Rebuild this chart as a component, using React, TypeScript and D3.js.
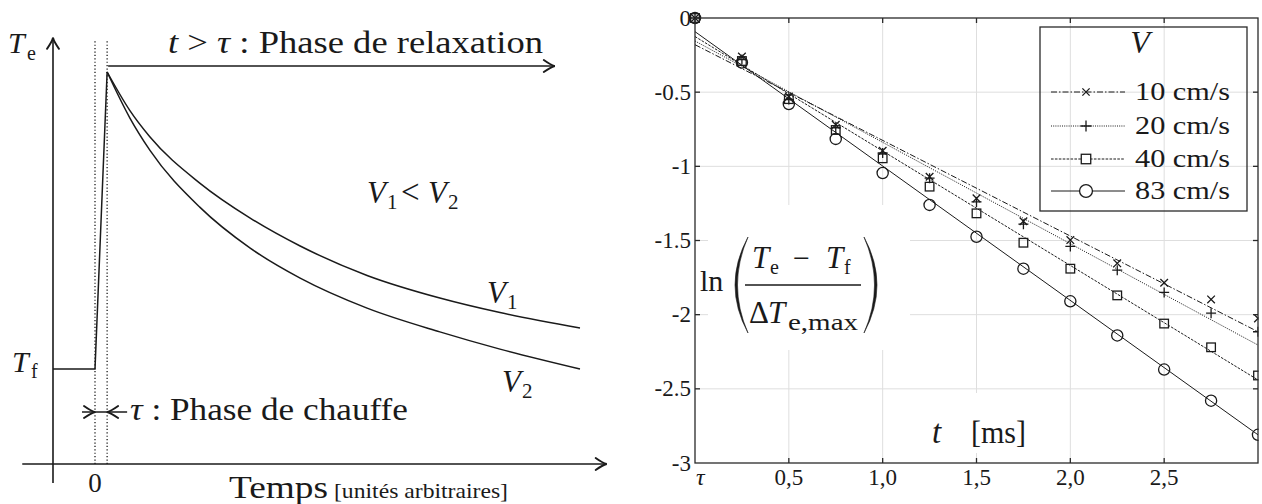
import React from "react";
import * as d3 from "d3";

// ---------- Left panel (schematic) data, arbitrary units ----------
const TAU = 0.25;
const heatT = [-0.866, 0, TAU];
const heatV = [0, 0, 1];
const relaxT = [0.25, 0.72, 1.13, 2.16, 3.2, 4.23, 5.61, 7.11, 8.35, 10];
const relaxV1 = [1.0, 0.87, 0.782, 0.626, 0.508, 0.414, 0.315, 0.239, 0.19, 0.138];
const relaxV2 = [1.0, 0.845, 0.737, 0.545, 0.407, 0.306, 0.205, 0.125, 0.067, 0.0];

// ---------- Right panel data ----------
const tMs = [0, 0.25, 0.5, 0.75, 1.0, 1.25, 1.5, 1.75, 2.0, 2.25, 2.5, 2.75, 3.0];
const speedLabels = ["10 cm/s", "20 cm/s", "40 cm/s", "83 cm/s"];
const ln10 = [0, -0.26, -0.53, -0.72, -0.895, -1.07, -1.216, -1.37, -1.497, -1.654, -1.785, -1.897, -2.025];
const ln20 = [0, -0.28, -0.55, -0.74, -0.91, -1.08, -1.24, -1.39, -1.54, -1.7, -1.85, -1.99, -2.115];
const ln40 = [0, -0.29, -0.547, -0.755, -0.946, -1.137, -1.317, -1.515, -1.69, -1.87, -2.06, -2.22, -2.41];
const ln83 = [0, -0.3, -0.58, -0.815, -1.045, -1.26, -1.475, -1.69, -1.91, -2.14, -2.37, -2.58, -2.81];
const fitStart = [-0.18, -0.155, -0.125, -0.092];
const fitEnd = [-2.115, -2.205, -2.44, -2.81];
const xTickVals = [0, 0.5, 1.0, 1.5, 2.0, 2.5];
const xTickLabels = ["τ", "0,5", "1,0", "1,5", "2,0", "2,5"];
const yTickVals = [0, -0.5, -1, -1.5, -2, -2.5, -3];
const yTickLabels = ["0", "-0.5", "-1", "-1.5", "-2", "-2.5", "-3"];

const FONT = '"Liberation Serif", "DejaVu Serif", serif';
const INK = "#1a1a1a";
const markers = ["cross", "plus", "square", "circle"];
const dashes = ["6,2,1.5,2", "1,1.2", "2.6,1.3", ""];

function Marker({ type, x, y, s = 1 }: { type: string; x: number; y: number; s?: number }) {
  const st = { stroke: INK, strokeWidth: 1.3, fill: "none" } as const;
  if (type === "cross") {
    const h = 3.8 * s;
    return <path d={`M${x - h},${y - h}L${x + h},${y + h}M${x - h},${y + h}L${x + h},${y - h}`} {...st} />;
  }
  if (type === "plus") {
    const h = 5 * s;
    return <path d={`M${x - h},${y}L${x + h},${y}M${x},${y - h}L${x},${y + h}`} {...st} />;
  }
  if (type === "square") {
    const h = 4.3 * s;
    return <rect x={x - h} y={y - h} width={2 * h} height={2 * h} {...st} />;
  }
  return <circle cx={x} cy={y} r={5.6 * s} {...st} />;
}

function ArrowHead({ x, y, dir, size = 1 }: { x: number; y: number; dir: "right" | "left" | "up"; size?: number }) {
  const L = 11 * size, W = 6 * size;
  let d = "";
  if (dir === "right") d = `M${x - L},${y - W}Q${x - 4},${y - 1} ${x},${y}Q${x - 4},${y + 1} ${x - L},${y + W}`;
  if (dir === "left") d = `M${x + L},${y - W}Q${x + 4},${y - 1} ${x},${y}Q${x + 4},${y + 1} ${x + L},${y + W}`;
  if (dir === "up") d = `M${x - W},${y + L}Q${x - 1},${y + 4} ${x},${y}Q${x + 1},${y + 4} ${x + W},${y + L}`;
  return <path d={d} fill="none" stroke={INK} strokeWidth={1.9} strokeLinecap="round" />;
}

export default function App() {
  const xL = d3.scaleLinear().domain([0, 10]).range([95, 580]);
  const yL = d3.scaleLinear().domain([0, 1]).range([369, 72]);
  const lineL = d3.line<[number, number]>().x((d) => xL(d[0])).y((d) => yL(d[1]));
  const curveL = d3.line<[number, number]>().x((d) => xL(d[0])).y((d) => yL(d[1])).curve(d3.curveMonotoneX);
  const heatPath = lineL(heatT.map((t, i) => [t, heatV[i]]))!;
  const v1Path = curveL(relaxT.map((t, i) => [t, relaxV1[i]]))!;
  const v2Path = curveL(relaxT.map((t, i) => [t, relaxV2[i]]))!;
  const axisX0 = xL(-1.5), axisX1 = xL(10.55), axisY = yL(-0.32);
  const yAxisX = xL(-0.866), yAxisTop = yL(1.115), yAxisBot = yL(-0.384);
  const dotTop = yL(1.105);
  const relaxY = yL(1.02), relaxEnd = xL(9.48);
  const chY = yL(-0.145);

  const x = d3.scaleLinear().domain([0, 3]).range([695, 1258]);
  const y = d3.scaleLinear().domain([-3, 0]).range([463, 18]);
  const series = [ln10, ln20, ln40, ln83];
  const fitLine = d3.line<[number, number]>().x((d) => x(d[0])).y((d) => y(d[1]));
  const gridX = xTickVals.slice(1);
  const gridY = yTickVals.slice(1, -1);
  const legendRows = [92, 126, 159, 191];

  return (
    <svg width={1262} height={504} style={{ position: "absolute", left: 0, top: 0, background: "#fff", fontFamily: FONT }}>
      <defs>
        <clipPath id="plotClip">
          <rect x={600} y={0} width={658.5} height={504} />
        </clipPath>
      </defs>
      <rect width={1262} height={504} fill="#fff" />

      {/* ===================== LEFT PANEL ===================== */}
      <g>
        <line x1={axisX0} y1={axisY} x2={axisX1} y2={axisY} stroke={INK} strokeWidth={1.6} />
        <ArrowHead x={axisX1} y={axisY} dir="right" />
        <line x1={yAxisX} y1={yAxisBot} x2={yAxisX} y2={yAxisTop} stroke={INK} strokeWidth={1.6} />
        <ArrowHead x={yAxisX} y={yAxisTop} dir="up" />
        {[0, TAU].map((t) => (
          <line key={t} x1={xL(t)} x2={xL(t)} y1={axisY} y2={dotTop} stroke={INK} strokeWidth={1.3} strokeDasharray="1.2,2.2" />
        ))}
        <path d={heatPath} fill="none" stroke={INK} strokeWidth={1.5} />
        <path d={v1Path} fill="none" stroke={INK} strokeWidth={1.5} />
        <path d={v2Path} fill="none" stroke={INK} strokeWidth={1.5} />
        <line x1={xL(TAU) + 1} y1={relaxY} x2={relaxEnd} y2={relaxY} stroke={INK} strokeWidth={1.5} />
        <ArrowHead x={relaxEnd} y={relaxY} dir="right" />
        <text x={168} y={53} fontSize={31} fill={INK} textLength={375} lengthAdjust="spacingAndGlyphs">
          <tspan fontStyle="italic">t</tspan> &gt; <tspan fontStyle="italic">τ</tspan> : Phase de relaxation
        </text>
        <line x1={xL(0) - 13} y1={chY} x2={xL(TAU) + 20} y2={chY} stroke={INK} strokeWidth={1.6} />
        <ArrowHead x={xL(0)} y={chY} dir="right" />
        <ArrowHead x={xL(TAU)} y={chY} dir="left" />
        <text x={130} y={420} fontSize={31} fill={INK} textLength={278} lengthAdjust="spacingAndGlyphs">
          <tspan fontStyle="italic">τ</tspan> : Phase de chauffe
        </text>
        <text x={8} y={53} fontSize={30} fontStyle="italic" fill={INK}>T</text>
        <text x={27} y={60} fontSize={20} fill={INK}>e</text>
        <text x={12} y={372} fontSize={30} fontStyle="italic" fill={INK}>T</text>
        <text x={31} y={378} fontSize={20} fill={INK}>f</text>
        <text x={xL(0)} y={492} fontSize={27} textAnchor="middle" fill={INK}>0</text>
        <text x={229} y={498} fontSize={31} fill={INK} textLength={99} lengthAdjust="spacingAndGlyphs">Temps</text>
        <text x={334} y={498} fontSize={21} fill={INK} textLength={174} lengthAdjust="spacingAndGlyphs">[unités arbitraires]</text>
        <text x={367} y={203} fontSize={31} fontStyle="italic" fill={INK}>V</text>
        <text x={387} y={209} fontSize={21} fill={INK}>1</text>
        <text x={401} y={203} fontSize={33} fill={INK}>&lt;</text>
        <text x={428} y={203} fontSize={31} fontStyle="italic" fill={INK}>V</text>
        <text x={448} y={209} fontSize={21} fill={INK}>2</text>
        <text x={487} y={303} fontSize={31} fontStyle="italic" fill={INK}>V</text>
        <text x={507} y={309} fontSize={21} fill={INK}>1</text>
        <text x={502} y={392} fontSize={31} fontStyle="italic" fill={INK}>V</text>
        <text x={522} y={398} fontSize={21} fill={INK}>2</text>
      </g>

      {/* ===================== RIGHT PANEL ===================== */}
      <g>
        {gridX.map((v) => (
          <line key={"gx" + v} x1={x(v)} x2={x(v)} y1={y(0)} y2={y(-3)} stroke="#dedede" strokeWidth={1} />
        ))}
        {gridY.map((v) => (
          <line key={"gy" + v} x1={x(0)} x2={x(3)} y1={y(v)} y2={y(v)} stroke="#dedede" strokeWidth={1} />
        ))}
        <rect x={708} y={205} width={202} height={145} fill="#fff" />
        <rect x={925} y={393} width={112} height={60} fill="#fff" />

        {series.map((_, i) => (
          <path
            key={"fit" + i}
            d={fitLine([[0, fitStart[i]], [3, fitEnd[i]]])!}
            fill="none"
            stroke={INK}
            strokeWidth={1}
            strokeDasharray={dashes[i] || undefined}
          />
        ))}
        <g clipPath="url(#plotClip)">
          {series.map((vals, i) =>
            vals.map((v, j) => <Marker key={`m${i}-${j}`} type={markers[i]} x={x(tMs[j])} y={y(v)} />)
          )}
        </g>

        <rect x={x(0)} y={y(0)} width={x(3) - x(0)} height={y(-3) - y(0)} fill="none" stroke="#2a2a2a" strokeWidth={1.3} />
        {gridX.map((v) => (
          <g key={"tx" + v}>
            <line x1={x(v)} x2={x(v)} y1={y(-3)} y2={y(-3) - 5} stroke="#2a2a2a" strokeWidth={1.3} />
            <line x1={x(v)} x2={x(v)} y1={y(0)} y2={y(0) + 5} stroke="#2a2a2a" strokeWidth={1.3} />
          </g>
        ))}
        {gridY.map((v) => (
          <g key={"ty" + v}>
            <line x1={x(0)} x2={x(0) + 5} y1={y(v)} y2={y(v)} stroke="#2a2a2a" strokeWidth={1.3} />
            <line x1={x(3)} x2={x(3) - 5} y1={y(v)} y2={y(v)} stroke="#2a2a2a" strokeWidth={1.3} />
          </g>
        ))}
        {yTickVals.map((v, i) => (
          <text key={"yl" + v} x={691} y={y(v) + 7.5} fontSize={23} textAnchor="end" fill={INK}>
            {yTickLabels[i]}
          </text>
        ))}
        {xTickVals.map((v, i) =>
          i === 0 ? (
            <text key="xl0" x={x(v) + 1} y={485} fontSize={24} fontStyle="italic" fill={INK}>
              {xTickLabels[i]}
            </text>
          ) : (
            <text key={"xl" + v} x={x(v)} y={485} fontSize={23} textAnchor="middle" fill={INK}>
              {xTickLabels[i]}
            </text>
          )
        )}

        <text x={700} y={291} fontSize={30} fill={INK}>ln</text>
        <path d="M748,237Q722,285 748,333Q727,285 748,237Z" fill={INK} stroke={INK} strokeWidth={0.6} />
        <path d="M864,237Q890,285 864,333Q885,285 864,237Z" fill={INK} stroke={INK} strokeWidth={0.6} />
        <text x={752} y={268} fontSize={31} fontStyle="italic" fill={INK}>T</text>
        <text x={770} y={274} fontSize={20} fill={INK}>e</text>
        <text x={793} y={268} fontSize={30} fill={INK}>−</text>
        <text x={826} y={268} fontSize={31} fontStyle="italic" fill={INK}>T</text>
        <text x={844} y={274} fontSize={20} fill={INK}>f</text>
        <line x1={745} x2={861} y1={285} y2={285} stroke={INK} strokeWidth={1.4} />
        <text x={749} y={323} fontSize={31} fill={INK}>Δ</text>
        <text x={768} y={323} fontSize={31} fontStyle="italic" fill={INK}>T</text>
        <text x={788} y={330} fontSize={24} fill={INK} textLength={70} lengthAdjust="spacingAndGlyphs">e,max</text>

        <text x={932} y={443} fontSize={33} fontStyle="italic" fill={INK}>t</text>
        <text x={971} y={443} fontSize={31} fill={INK} textLength={55} lengthAdjust="spacingAndGlyphs">[ms]</text>

        <rect x={1040} y={27} width={207} height={184} fill="none" stroke="#2a2a2a" strokeWidth={1.3} />
        <text x={1140} y={53} fontSize={32} fontStyle="italic" textAnchor="middle" fill={INK}>V</text>
        {speedLabels.map((lab, i) => (
          <g key={"lg" + i}>
            <line x1={1051} x2={1125} y1={legendRows[i]} y2={legendRows[i]} stroke={INK} strokeWidth={1} strokeDasharray={dashes[i] || undefined} />
            {markers[i] === "circle" || markers[i] === "square" ? (
              <>
                <rect
                  x={1086 - (markers[i] === "circle" ? 6.5 : 4.8)}
                  y={legendRows[i] - (markers[i] === "circle" ? 6.5 : 4.8)}
                  width={markers[i] === "circle" ? 13 : 9.6}
                  height={markers[i] === "circle" ? 13 : 9.6}
                  fill="#fff"
                  rx={markers[i] === "circle" ? 6.5 : 0}
                />
                <Marker type={markers[i]} x={1086} y={legendRows[i]} s={markers[i] === "circle" ? 1.15 : 1.1} />
              </>
            ) : (
              <Marker type={markers[i]} x={1086} y={legendRows[i]} s={markers[i] === "plus" ? 1.1 : 0.95} />
            )}
            <text x={1135} y={legendRows[i] + 8} fontSize={26} fill={INK} textLength={95} lengthAdjust="spacingAndGlyphs">
              {lab}
            </text>
          </g>
        ))}
      </g>
    </svg>
  );
}
